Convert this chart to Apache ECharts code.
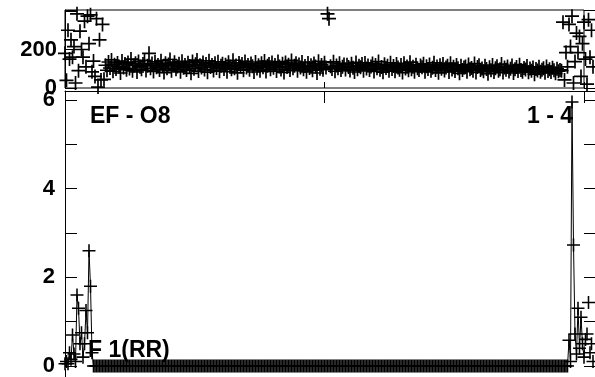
<!DOCTYPE html>
<html>
<head>
<meta charset="utf-8">
<script src="https://cdn.jsdelivr.net/npm/echarts@6/dist/echarts.min.js"></script>
<style>html,body{margin:0;padding:0;background:#fff;}#c{width:595px;height:377px;}</style>
</head>
<body>
<div id="c"></div>
<script>
// Top panel values (per sample)
const topValues = [
  180, 40, 300, 150, 250, 160, 215, 26, 385, 90, 295, 200, 160, 347, 110, 373, 230, 380, 84, 140, 60, 360, 5, 250, 42, 330, 45,
  118, 92, 135, 104, 146, 87, 121, 99, 130, 112, 78, 140, 106, 125, 95, 133,
  101, 150, 89, 117, 128, 83, 138, 110, 97, 124, 143, 91, 115, 180, 102, 127,
  86, 136, 108, 119, 94, 142, 113, 80, 129, 103, 122, 148, 90, 116, 134, 98,
  111, 126, 84, 139, 105, 120, 93, 131, 114, 76, 137, 100, 123, 145, 88, 118,
  107, 132, 96, 125, 82, 141, 109, 119, 91, 128, 104, 136, 87, 115, 126, 99,
  121, 85, 134, 110, 97, 144, 103, 117, 79, 130, 112, 124, 92, 138, 106, 120,
  95, 127, 113, 83, 135, 101, 118, 90, 129, 108, 140, 86, 116, 124, 98, 132,
  105, 119, 88, 137, 111, 96, 126, 81, 133, 109, 121, 93, 143, 102, 115, 128,
  90, 122, 107, 135, 97, 114, 84, 130, 104, 118, 92, 127, 111, 78, 139, 100,
  120, 95, 131, 106, 385, 360, 113, 99, 136, 87, 117, 103, 128, 94, 110, 122,
  96, 121, 109, 91, 126, 105, 83, 133, 98, 115, 108, 124, 89, 130, 101, 117,
  93, 112, 127, 86, 120, 102, 137, 95, 109, 82, 123, 104, 116, 90, 131, 99,
  114, 87, 125, 106, 95, 119, 80, 128, 101, 112, 92, 134, 97, 110, 85, 121,
  103, 93, 117, 108, 126, 84, 113, 99, 122, 89, 105, 131, 94, 111, 79, 118,
  100, 124, 91, 107, 115, 83, 129, 96, 110, 88, 120, 102, 76, 116, 93, 106,
  112, 85, 122, 97, 104, 90, 127, 81, 109, 118, 94, 101, 87, 115, 99, 74,
  108, 92, 119, 83, 103, 113, 89, 97, 124, 80, 106, 95, 111, 86, 100, 117,
  78, 98, 109, 88, 121, 93, 84, 104, 96, 114, 82, 101, 90, 107, 72, 99,
  91, 110, 85, 95, 103, 79, 112, 88, 97, 83, 105, 92, 76, 100, 87, 94,
  90, 342, 42, 184, 110, 330, 215, 373, 26, 137, 285, 184, 268, 60, 230, 342, 150, 20, 355, 160, 300, 110
];
// Bottom panel values (per sample)
const ratioValues = [
  0.05, 0.1, 0.05, 0.3, 0.15, 0.7, 0.27, 0.1, 1.6, 1.3, 0.5, 0.75, 0.2, 0.5, 1.25, 0.75, 2.6, 1.8, 0.3,
  0,0,0,0,0,0,0,0,0,0,0,0,0,0,0,0,0,0,0,0,
  0,0,0,0,0,0,0,0,0,0,0,0,0,0,0,0,0,0,0,0,
  0,0,0,0,0,0,0,0,0,0,0,0,0,0,0,0,0,0,0,0,
  0,0,0,0,0,0,0,0,0,0,0,0,0,0,0,0,0,0,0,0,
  0,0,0,0,0,0,0,0,0,0,0,0,0,0,0,0,0,0,0,0,
  0,0,0,0,0,0,0,0,0,0,0,0,0,0,0,0,0,0,0,0,
  0,0,0,0,0,0,0,0,0,0,0,0,0,0,0,0,0,0,0,0,
  0,0,0,0,0,0,0,0,0,0,0,0,0,0,0,0,0,0,0,0,
  0,0,0,0,0,0,0,0,0,0,0,0,0,0,0,0,0,0,0,0,
  0,0,0,0,0,0,0,0,0,0,0,0,0,0,0,0,0,0,0,0,
  0,0,0,0,0,0,0,0,0,0,0,0,0,0,0,0,0,0,0,0,
  0,0,0,0,0,0,0,0,0,0,0,0,0,0,0,0,0,0,0,0,
  0,0,0,0,0,0,0,0,0,0,0,0,0,0,0,0,0,0,0,0,
  0,0,0,0,0,0,0,0,0,0,0,0,0,0,0,0,0,0,0,0,
  0,0,0,0,0,0,0,0,0,0,0,0,0,0,0,0,0,0,0,0,
  0,0,0,0,0,0,0,0,0,0,0,0,0,0,0,0,0,
  0.58, 0.1, 5.95, 2.73, 0.72, 0.27, 1.3, 0.4, 1.1, 0.5, 0.2, 0.6, 0.72, 1.43, 0.3, 0.5, 0.1
];
const topTickLabels = [0, 200];
const bottomTickLabels = [0, 2, 4, 6];
const panelTexts = ['EF - O8', '1 - 4', 'F 1(RR)'];

const topData = topValues.map((v, i) => [i, v]);
const ratioData = ratioValues.map((v, i) => [i, v]);

const FONT = "'Liberation Sans', Arial, sans-serif";
const cross = 'path://M0,8.8H20V11.2H0ZM8.8,0H11.2V20H8.8Z';
const black = '#000';

const chart = echarts.init(document.getElementById('c'), null, {renderer: 'canvas'});
chart.setOption({
  animation: false,
  backgroundColor: '#fff',
  grid: [
    {left: 65, top: 10, width: 519, height: 78, show: true, borderColor: black, borderWidth: 1, backgroundColor: 'transparent'},
    {left: 65, top: 91, width: 519, height: 278}
  ],
  xAxis: [
    {gridIndex: 0, type: 'value', min: 0, max: 346, interval: 173,
     axisLine: {show: false, onZero: false}, axisTick: {inside: true, length: 6, lineStyle: {color: black}},
     axisLabel: {show: false}, splitLine: {show: false}},
    {gridIndex: 1, type: 'value', position: 'top', min: 0, max: 346, interval: 173,
     axisLine: {show: true, onZero: false, lineStyle: {color: black}}, axisTick: {inside: true, length: 12, lineStyle: {color: black}},
     axisLabel: {show: false}, splitLine: {show: false}}
  ],
  yAxis: [
    {gridIndex: 0, type: 'value', min: 0, max: 405, interval: 200,
     axisLine: {show: true, onZero: false, lineStyle: {color: black}},
     axisTick: {inside: true, length: 12, lineStyle: {color: black}},
     axisLabel: {margin: 8, color: black, fontFamily: FONT, fontWeight: 'bold', fontSize: 22,
       formatter: v => topTickLabels.includes(v) ? String(v) : ''},
     splitLine: {show: false}},
    {gridIndex: 1, type: 'value', min: 0, max: 6.2, interval: 1,
     axisLine: {show: true, onZero: false, lineStyle: {color: black}},
     axisTick: {inside: true, length: 12, lineStyle: {color: black}},
     axisLabel: {margin: 10, color: black, fontFamily: FONT, fontWeight: 'bold', fontSize: 22,
       formatter: v => bottomTickLabels.includes(v) ? String(v) : ''},
     splitLine: {show: false}},
    {gridIndex: 1, type: 'value', position: 'right', min: 0, max: 6.2, interval: 1,
     axisLine: {show: false, onZero: false},
     axisTick: {inside: false, length: 11, lineStyle: {color: black}},
     axisLabel: {show: false}, splitLine: {show: false}}
  ],
  series: [
    {type: 'scatter', xAxisIndex: 0, yAxisIndex: 0, data: topData, clip: false, large: false,
     symbol: cross, symbolSize: 14, itemStyle: {color: black, opacity: 1}, silent: true},
    {type: 'line', xAxisIndex: 1, yAxisIndex: 1, data: ratioData, clip: false,
     showSymbol: true, showAllSymbol: true, symbol: cross, symbolSize: 13,
     itemStyle: {color: black}, lineStyle: {color: black, width: 1}, silent: true}
  ],
  graphic: [
    {type: 'line', shape: {x1: 584, y1: 10.5, x2: 595, y2: 10.5}, style: {stroke: black, lineWidth: 1}},
    {type: 'line', shape: {x1: 584, y1: 88.5, x2: 595, y2: 88.5}, style: {stroke: black, lineWidth: 1}},
    {type: 'line', shape: {x1: 584, y1: 91.5, x2: 595, y2: 91.5}, style: {stroke: black, lineWidth: 1}},
    {type: 'line', shape: {x1: 65.5, y1: 369, x2: 65.5, y2: 377}, style: {stroke: black, lineWidth: 1}},
    {type: 'text', x: 90, y: 117, z: 100, style: {text: panelTexts[0], fill: black, font: 'bold 23px ' + FONT, textAlign: 'left', textVerticalAlign: 'middle'}},
    {type: 'text', x: 573, y: 117, z: 100, style: {text: panelTexts[1], fill: black, font: 'bold 23px ' + FONT, textAlign: 'right', textVerticalAlign: 'middle'}},
    {type: 'text', x: 88, y: 351, z: 100, style: {text: panelTexts[2], fill: black, font: 'bold 23px ' + FONT, textAlign: 'left', textVerticalAlign: 'middle'}}
  ]
});
</script>
</body>
</html>
